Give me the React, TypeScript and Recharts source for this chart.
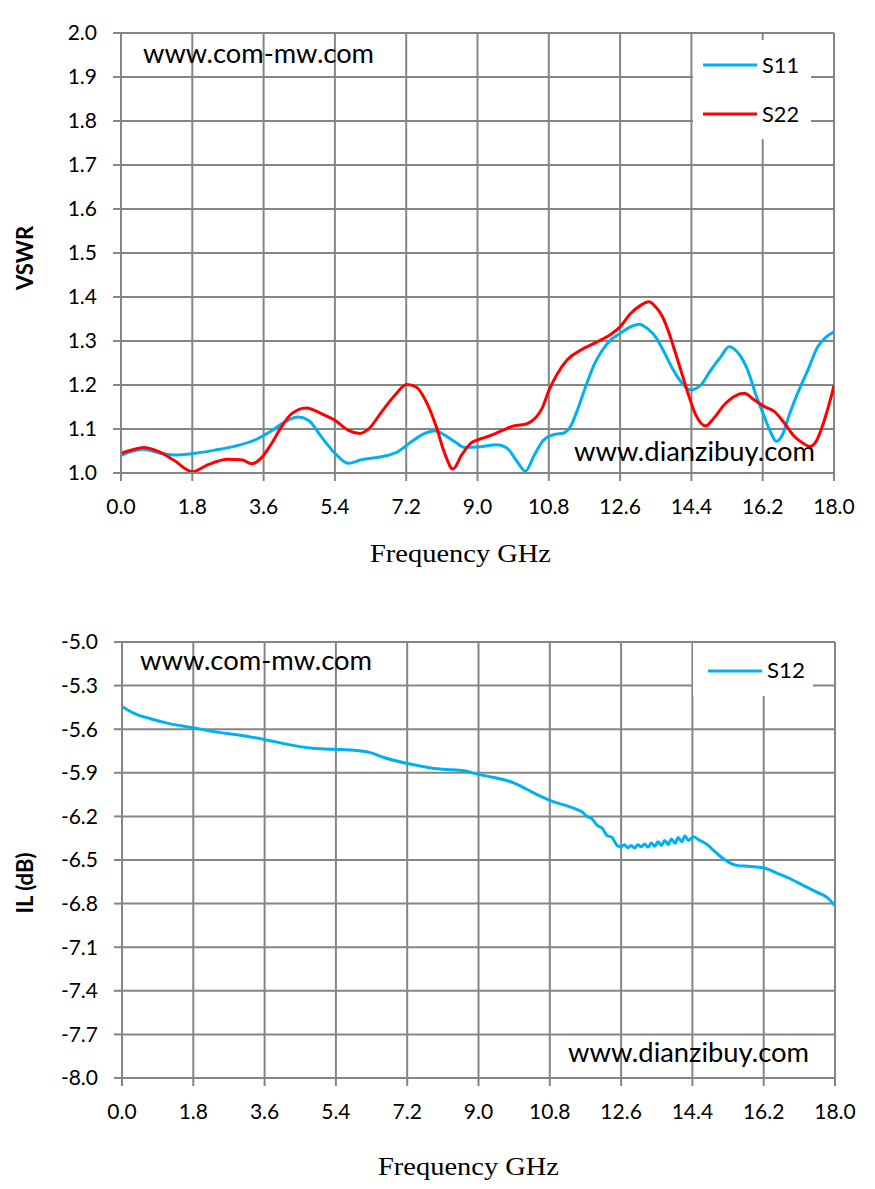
import React from 'react';
import { LineChart, Line, XAxis, YAxis, CartesianGrid } from 'recharts';

// ---------- categories / ticks ----------
const freqTicks = [0, 1.8, 3.6, 5.4, 7.2, 9.0, 10.8, 12.6, 14.4, 16.2, 18.0];
const vswrTicks = [1.0, 1.1, 1.2, 1.3, 1.4, 1.5, 1.6, 1.7, 1.8, 1.9, 2.0];
const ilTicks = [-8.0, -7.7, -7.4, -7.1, -6.8, -6.5, -6.2, -5.9, -5.6, -5.3, -5.0];

// ---------- S11 (VSWR) ----------
const s11Freq = [0, 0.3, 0.56, 0.94, 1.32, 1.8, 2.37, 2.88, 3.38, 3.8, 4.14, 4.47, 4.73, 5.06, 5.4, 5.74, 6.07, 6.58, 7.0, 7.33, 7.67, 7.92, 8.17, 8.43, 8.68, 9.0, 9.49, 9.74, 10.0, 10.21, 10.42, 10.67, 10.92, 11.18, 11.35, 11.51, 11.73, 11.94, 12.15, 12.36, 12.6, 12.86, 13.08, 13.29, 13.5, 13.71, 13.92, 14.13, 14.38, 14.64, 14.89, 15.14, 15.35, 15.56, 15.82, 16.03, 16.24, 16.41, 16.54, 16.7, 16.87, 17.08, 17.34, 17.59, 17.8, 18.0];
const s11Vswr = [1.04, 1.05, 1.054, 1.046, 1.041, 1.044, 1.052, 1.061, 1.075, 1.096, 1.116, 1.127, 1.12, 1.082, 1.045, 1.022, 1.03, 1.037, 1.049, 1.071, 1.09, 1.096, 1.086, 1.071, 1.058, 1.059, 1.064, 1.057, 1.026, 1.004, 1.038, 1.075, 1.087, 1.091, 1.106, 1.14, 1.196, 1.245, 1.279, 1.302, 1.317, 1.332, 1.338, 1.328, 1.309, 1.275, 1.238, 1.208, 1.189, 1.2, 1.234, 1.264, 1.287, 1.275, 1.234, 1.177, 1.128, 1.091, 1.072, 1.087, 1.132, 1.181, 1.234, 1.287, 1.309, 1.321];

// ---------- S22 (VSWR) ----------
const s22Freq = [0, 0.3, 0.56, 0.94, 1.32, 1.81, 2.2, 2.7, 3.04, 3.3, 3.55, 3.8, 4.05, 4.31, 4.68, 5.06, 5.4, 5.74, 6.03, 6.24, 6.58, 6.91, 7.21, 7.46, 7.71, 7.96, 8.17, 8.38, 8.6, 8.85, 9.0, 9.32, 9.66, 9.91, 10.25, 10.46, 10.63, 10.81, 11.0, 11.26, 11.6, 12.02, 12.36, 12.6, 12.86, 13.12, 13.33, 13.5, 13.67, 13.84, 14.0, 14.17, 14.34, 14.51, 14.76, 14.97, 15.23, 15.48, 15.73, 15.99, 16.24, 16.49, 16.75, 17.0, 17.25, 17.38, 17.55, 17.76, 17.93, 18.0];
const s22Vswr = [1.045, 1.053, 1.058, 1.049, 1.03, 1.003, 1.019, 1.031, 1.03, 1.021, 1.035, 1.067, 1.105, 1.135, 1.148, 1.135, 1.12, 1.097, 1.09, 1.099, 1.139, 1.176, 1.201, 1.195, 1.161, 1.105, 1.045, 1.009, 1.041, 1.069, 1.075, 1.085, 1.098, 1.107, 1.112, 1.125, 1.147, 1.189, 1.223, 1.257, 1.279, 1.298, 1.315, 1.332, 1.362, 1.381, 1.389, 1.377, 1.355, 1.317, 1.272, 1.223, 1.174, 1.132, 1.107, 1.125, 1.155, 1.174, 1.181, 1.166, 1.151, 1.14, 1.113, 1.083, 1.066, 1.06, 1.072, 1.121, 1.174, 1.2];

// ---------- S12 (IL dB) ----------
const s12Freq = [0, 0.29, 0.72, 1.14, 1.8, 2.4, 2.99, 3.62, 4.17, 4.67, 5.35, 5.85, 6.27, 6.61, 7.2, 7.54, 7.87, 8.21, 8.63, 9.0, 9.39, 9.89, 10.23, 10.56, 10.9, 11.24, 11.49, 11.62, 11.74, 11.86, 12.0, 12.12, 12.24, 12.37, 12.5, 12.6, 12.68, 12.77, 12.85, 12.94, 13.02, 13.11, 13.19, 13.28, 13.36, 13.45, 13.53, 13.62, 13.7, 13.79, 13.87, 13.96, 14.04, 14.13, 14.21, 14.3, 14.43, 14.55, 14.68, 14.8, 14.93, 15.18, 15.52, 15.86, 16.19, 16.53, 16.87, 17.2, 17.54, 17.79, 18.0];
const s12Il = [-5.444, -5.489, -5.528, -5.558, -5.59, -5.62, -5.642, -5.672, -5.704, -5.727, -5.738, -5.745, -5.761, -5.795, -5.836, -5.854, -5.87, -5.877, -5.886, -5.911, -5.932, -5.969, -6.015, -6.061, -6.1, -6.128, -6.153, -6.17, -6.2, -6.215, -6.262, -6.28, -6.33, -6.345, -6.4, -6.41, -6.395, -6.415, -6.4, -6.418, -6.395, -6.41, -6.39, -6.412, -6.383, -6.405, -6.375, -6.4, -6.365, -6.395, -6.355, -6.385, -6.345, -6.375, -6.335, -6.365, -6.34, -6.36, -6.378, -6.4, -6.433, -6.491, -6.537, -6.544, -6.553, -6.59, -6.629, -6.675, -6.721, -6.755, -6.813];

const CYAN = '#00B0F0';
const RED = '#FF0000';
const GRID = '#858585';
const TICK_FONT = 'Lato, "Open Sans", sans-serif';

const toPoints = (fs: number[], vs: number[]) => fs.map((f, i) => ({ f, v: vs[i] }));
const s11Data = toPoints(s11Freq, s11Vswr);
const s22Data = toPoints(s22Freq, s22Vswr);
const s12Data = toPoints(s12Freq, s12Il);

const fmt = (v: number) => v.toFixed(1);
const tickStyle = { fill: '#000', fontSize: 21, fontFamily: TICK_FONT };

function axes(yTicks: number[], yDomain: [number, number]) {
  return [
    <CartesianGrid key="g" stroke={GRID} strokeWidth={2} fill="#fff" />,
    <XAxis
      key="x"
      dataKey="f"
      type="number"
      domain={[0, 18]}
      ticks={freqTicks}
      interval={0}
      tickFormatter={fmt}
      allowDataOverflow
      axisLine={{ stroke: GRID, strokeWidth: 2 }}
      tickLine={{ stroke: GRID, strokeWidth: 2 }}
      tickSize={8}
      tickMargin={18}
      tick={tickStyle}
      height={30}
    />,
    <YAxis
      key="y"
      type="number"
      domain={yDomain}
      ticks={yTicks}
      interval={0}
      tickFormatter={fmt}
      allowDataOverflow
      axisLine={{ stroke: GRID, strokeWidth: 2 }}
      tickLine={{ stroke: GRID, strokeWidth: 2 }}
      tickSize={8}
      tickMargin={16}
      tick={tickStyle}
      width={60}
    />,
  ];
}

export default function App() {
  return (
    <div style={{ position: 'absolute', left: 0, top: 0, width: 875, height: 1189, background: '#fff' }}>
      <div style={{ position: 'absolute', left: 0, top: 0 }}>
        <LineChart width={875} height={600} margin={{ top: 33, right: 41, bottom: 97, left: 61 }}>
          {axes(vswrTicks, [1, 2])}
          <Line data={s11Data} dataKey="v" name="S11" type="monotone" stroke={CYAN} strokeWidth={3} dot={false} isAnimationActive={false} />
          <Line data={s22Data} dataKey="v" name="S22" type="monotone" stroke={RED} strokeWidth={3} dot={false} isAnimationActive={false} />
        </LineChart>
      </div>
      <div style={{ position: 'absolute', left: 0, top: 600 }}>
        <LineChart width={875} height={589} margin={{ top: 42, right: 40, bottom: 81, left: 62 }}>
          {axes(ilTicks, [-8, -5])}
          <Line data={s12Data} dataKey="v" name="S12" type="monotone" stroke={CYAN} strokeWidth={3} dot={false} isAnimationActive={false} />
        </LineChart>
      </div>
      <svg width={875} height={1189} style={{ position: 'absolute', left: 0, top: 0, pointerEvents: 'none' }}>
        {/* top chart annotations */}
        <text x={143} y={63} fontFamily={TICK_FONT} fontSize={26} textLength={231} lengthAdjust="spacingAndGlyphs" fill="#000">www.com-mw.com</text>
        <text x={574} y={461} fontFamily={TICK_FONT} fontSize={26} textLength={241} lengthAdjust="spacingAndGlyphs" fill="#000">www.dianzibuy.com</text>
        <rect x={693} y={40} width={118} height={99} fill="#fff" />
        <line x1={703} x2={757} y1={65} y2={65} stroke={CYAN} strokeWidth={3} />
        <text x={762} y={73} fontFamily={TICK_FONT} fontSize={22} textLength={37} lengthAdjust="spacingAndGlyphs" fill="#000">S11</text>
        <line x1={703} x2={757} y1={114} y2={114} stroke={RED} strokeWidth={3} />
        <text x={762} y={122} fontFamily={TICK_FONT} fontSize={22} textLength={37} lengthAdjust="spacingAndGlyphs" fill="#000">S22</text>
        <text x={33} y={258} transform="rotate(-90 33 258)" textAnchor="middle" fontFamily={TICK_FONT} fontWeight="bold" fontSize={22} fill="#000">VSWR</text>
        <text x={370} y={562} fontFamily='"Liberation Serif", serif' fontSize={26} textLength={181} lengthAdjust="spacingAndGlyphs" fill="#000">Frequency GHz</text>

        {/* bottom chart annotations */}
        <text x={140} y={670} fontFamily={TICK_FONT} fontSize={26} textLength={232} lengthAdjust="spacingAndGlyphs" fill="#000">www.com-mw.com</text>
        <text x={568} y={1062} fontFamily={TICK_FONT} fontSize={26} textLength={241} lengthAdjust="spacingAndGlyphs" fill="#000">www.dianzibuy.com</text>
        <rect x={693} y={643} width={120} height={53} fill="#fff" />
        <line x1={708} x2={762} y1={671} y2={671} stroke={CYAN} strokeWidth={3} />
        <text x={767} y={678} fontFamily={TICK_FONT} fontSize={22} textLength={38} lengthAdjust="spacingAndGlyphs" fill="#000">S12</text>
        <text x={33} y={883} transform="rotate(-90 33 883)" textAnchor="middle" fontFamily={TICK_FONT} fontWeight="bold" fontSize={22} fill="#000">IL (dB)</text>
        <text x={378} y={1175} fontFamily='"Liberation Serif", serif' fontSize={26} textLength={181} lengthAdjust="spacingAndGlyphs" fill="#000">Frequency GHz</text>
      </svg>
    </div>
  );
}
